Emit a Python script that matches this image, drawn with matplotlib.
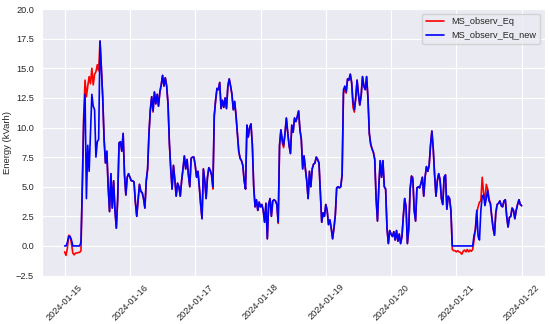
import numpy as np
import pandas as pd
import matplotlib
matplotlib.use('Agg')
import matplotlib.pyplot as plt
import matplotlib.dates as mdates
import seaborn as sns

# 30-min readings, 2024-01-15 00:00 .. 2024-01-22 00:00
day1 = [0.0, 0.0, 0.3, 0.8, 0.8, 0.5, 0.0, 0.0, 0.0, 0.0, 0.0, 0.0,
        0.3, 5.0, 10.5, 12.8, 4.0, 8.5, 6.3, 9.5, 12.8, 11.8, 11.5, 7.5,
        8.8, 9.0, 17.3, 15.0, 12.5, 9.0, 7.0, 8.0, 5.0, 2.9, 6.1, 3.2,
        5.5, 3.0, 1.5, 4.0, 8.7, 8.8, 8.0, 9.5, 6.0, 4.3, 5.8, 6.1]
day2 = [5.8, 5.5, 5.5, 5.4, 3.7, 2.5, 3.8, 5.2, 4.6, 4.5, 4.0, 3.2,
        5.5, 6.5, 9.5, 11.5, 12.6, 11.4, 13.0, 12.0, 12.8, 11.8, 13.0, 13.6,
        14.4, 13.5, 14.2, 13.5, 12.0, 8.7, 6.5, 4.8, 6.8, 5.6, 4.2, 5.3,
        5.0, 4.2, 5.5, 6.5, 7.6, 6.5, 7.3, 6.0, 5.0, 7.4, 7.5, 7.5]
day3 = [6.8, 5.8, 6.3, 5.0, 3.5, 2.3, 6.5, 5.5, 4.0, 5.8, 6.6, 6.4,
        6.0, 5.0, 11.0, 12.3, 13.3, 13.2, 13.8, 11.6, 12.3, 11.7, 12.5, 11.6,
        13.5, 14.1, 13.5, 12.8, 11.5, 12.2, 11.0, 9.5, 8.0, 7.4, 7.2, 6.8,
        5.5, 4.8, 10.2, 9.2, 10.0, 10.3, 8.5, 5.0, 3.3, 3.9, 3.0, 3.7]
day4 = [3.3, 3.5, 3.0, 2.0, 3.6, 0.6, 3.5, 4.0, 2.5, 3.8, 3.9, 3.8,
        3.5, 2.0, 8.5, 9.8, 9.0, 8.5, 9.5, 10.8, 9.6, 8.5, 7.8, 10.2,
        9.6, 10.8, 10.5, 10.9, 11.4, 9.8, 9.0, 6.5, 7.6, 6.5, 5.5, 4.0,
        6.3, 5.0, 6.5, 6.9, 7.0, 7.5, 7.3, 7.0, 4.5, 2.0, 2.8, 2.5]
day5 = [3.5, 3.0, 1.8, 2.2, 1.5, 0.6, 1.5, 2.6, 4.9, 5.0, 4.9, 5.0,
        6.0, 13.2, 13.5, 13.0, 14.1, 14.0, 14.5, 13.8, 12.2, 11.5, 12.5, 14.0,
        12.8, 11.9, 12.7, 14.3, 13.5, 13.2, 14.3, 12.5, 9.5, 8.6, 8.2, 7.9,
        7.3, 4.0, 2.1, 5.0, 7.2, 5.8, 7.2, 5.0, 4.8, 1.5, 0.2, 1.3]
day6 = [1.0, 0.8, 1.2, 0.5, 1.3, 0.4, 1.0, 0.2, 0.8, 2.5, 4.0, 3.3,
        0.2, 1.5, 4.8, 5.9, 5.6, 3.0, 2.1, 4.9, 5.0, 4.9, 5.3, 5.8,
        4.2, 5.8, 6.7, 6.3, 6.8, 8.5, 9.7, 8.2, 6.0, 4.2, 5.5, 6.1,
        5.6, 4.0, 3.5, 5.8, 6.0, 3.1, 4.2, 4.0, 3.0, 0.0, 0.0, 0.0]
day7 = [0.0, 0.0, 0.0, 0.0, 0.0, 0.0, 0.0, 0.0, 0.0, 0.0, 0.0, 0.0,
        0.0, 0.9, 1.3, 3.0, 0.8, 0.5, 3.0, 4.2, 4.3, 3.4, 4.0, 4.7,
        3.8, 3.6, 2.5, 1.5, 0.9, 2.8, 3.5, 3.6, 3.8, 3.4, 3.3, 3.8,
        3.9, 2.5, 1.6, 2.4, 2.5, 3.2, 3.0, 2.3, 3.0, 3.5, 3.9, 3.5, 3.4]

# where the old series differs from the new one
old_idx = list(range(0, 26)) + [65, 109, 157, 160, 161, 205, 206, 207, 212, 213, 256] \
    + list(range(285, 313))
old_val = [-0.5, -0.8, -0.2, 0.9, 0.8, 0.2, -0.6, -0.75, -0.6, -0.6, -0.55, -0.55,
           -0.4, 5.5, 11.0, 14.0, 12.6, 13.5, 14.3, 13.7, 15.0, 13.6, 14.5, 14.7,
           15.3, 14.8,
           11.3, 4.8, 1.9, 8.7, 8.3, 12.9, 13.2, 12.9, 11.7, 11.3, 5.8,
           -0.3, -0.4, -0.4, -0.5, -0.4, -0.5, -0.55, -0.7, -0.45, -0.35, -0.5, -0.3,
           -0.5, -0.35, -0.45, -0.3,
           0.5, 1.5, 2.8, 3.3, 3.7, 3.8, 5.8, 4.5, 3.8, 5.2, 4.8, 4.0]

eq_new = np.array(day1 + day2 + day3 + day4 + day5 + day6 + day7)
eq_old = eq_new.copy()
eq_old[old_idx] = old_val
t = pd.date_range('2024-01-15', periods=len(eq_new), freq='30min')

sns.set_style('darkgrid')
plt.rcParams['font.family'] = ['Liberation Sans', 'DejaVu Sans']

fig, ax = plt.subplots(figsize=(5.5, 3.24), dpi=100)
fig.subplots_adjust(left=0.076, right=0.99, top=0.972, bottom=0.12)

ax.plot(t, eq_old, color='red', lw=1.2, label='MS_observ_Eq')
ax.plot(t, eq_new, color='blue', lw=1.2, label='MS_observ_Eq_new')

ax.set_ylim(-2.5, 20)
ax.set_yticks(np.arange(-2.5, 20.1, 2.5))
ax.xaxis.set_major_locator(mdates.DayLocator())
ax.xaxis.set_major_formatter(mdates.DateFormatter('%Y-%m-%d'))
ax.tick_params(axis='y', labelsize=6.6, pad=2)
ax.tick_params(axis='x', labelsize=6.6, pad=1.5)
plt.setp(ax.get_xticklabels(), rotation=45)
ax.set_ylabel('Energy (kVarh)', fontsize=6.8, labelpad=3)
ax.legend(loc='upper right', fontsize=6.6)

# push the axes up just enough that the rotated dates fit in the figure
fig.canvas.draw()
r = fig.canvas.get_renderer()
low = min(lb.get_window_extent(r).y0 for lb in ax.get_xticklabels())
if low < 2:
    fig.subplots_adjust(bottom=0.12 + (2 - low) / fig.bbox.height)

fig.savefig('out.png', dpi=100)
